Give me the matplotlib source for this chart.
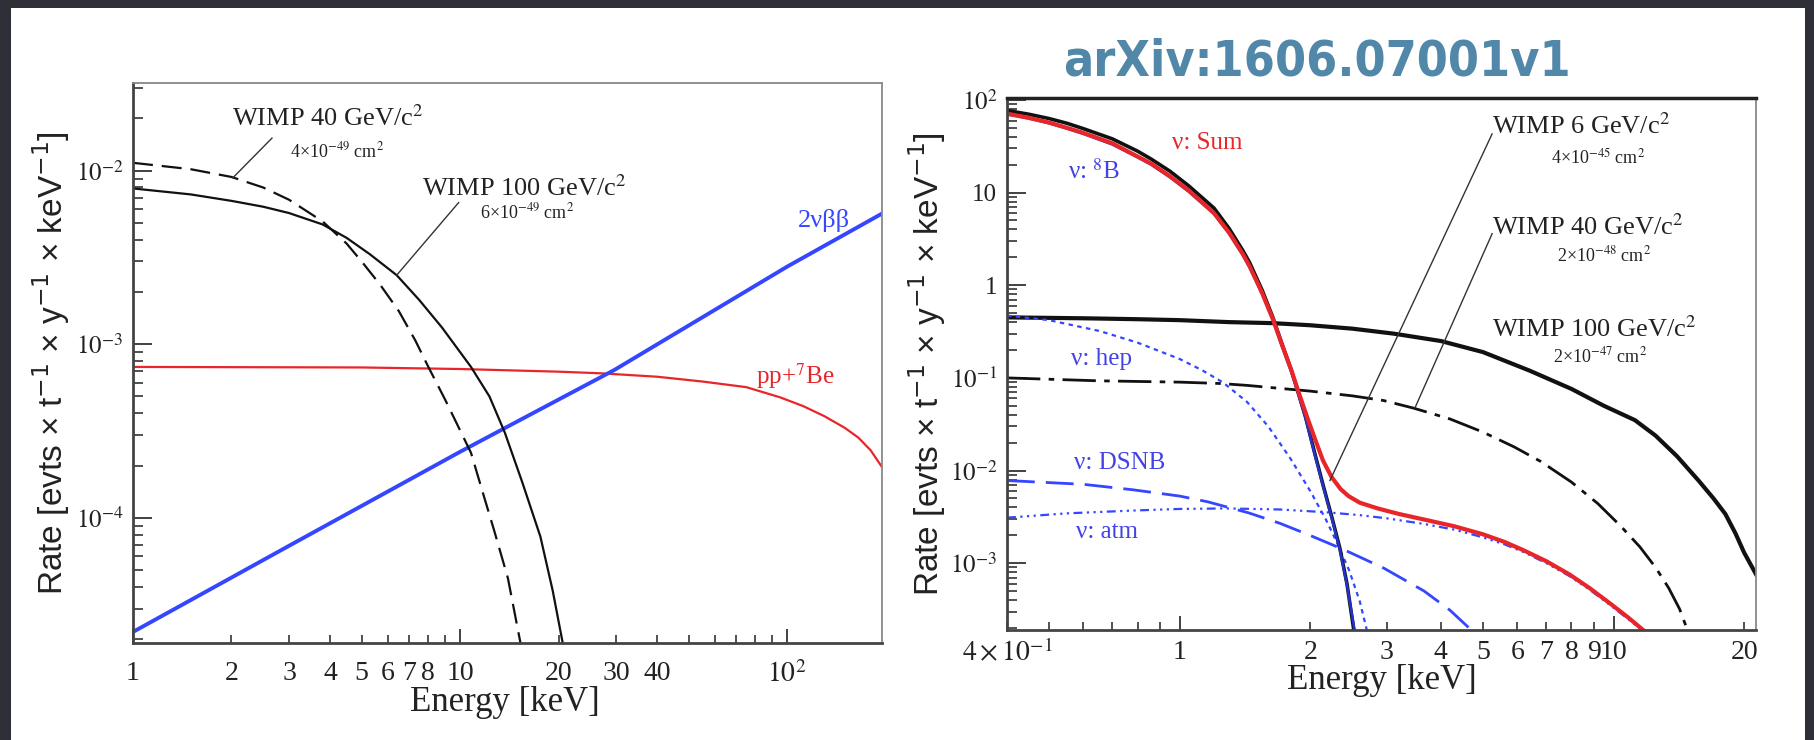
import numpy as np
import matplotlib
matplotlib.use("Agg")
import matplotlib.pyplot as plt
from matplotlib import ticker, font_manager as fm
from matplotlib.patches import Rectangle

# ---- left panel (keV, evts/t/y/keV) ----
w40L_e = [1.0, 1.5, 2.0, 2.5, 3.0, 3.8, 4.5, 5.0, 5.7, 6.5, 7.3, 8.0, 9.0, 10.8, 11.8, 12.7, 14.0, 15.3]
w40L_r = [1.11e-2, 1.02e-2, 9.2e-3, 8.0e-3, 6.8e-3, 5.1e-3, 3.8e-3, 3.0e-3, 2.2e-3, 1.55e-3,
          1.05e-3, 7.4e-4, 4.8e-4, 2.37e-4, 1.35e-4, 8.5e-5, 4.5e-5, 1.9e-5]
w100L_e = [1.0, 1.5, 2.0, 2.5, 3.0, 3.8, 4.5, 5.3, 6.4, 7.5, 8.8, 10.8, 12.3, 13.7, 15.5, 17.6, 19.2, 20.6]
w100L_r = [7.9e-3, 7.3e-3, 6.7e-3, 6.2e-3, 5.7e-3, 4.9e-3, 4.1e-3, 3.3e-3, 2.5e-3, 1.8e-3,
           1.25e-3, 7.4e-4, 5.0e-4, 3.1e-4, 1.6e-4, 7.8e-5, 3.8e-5, 1.9e-5]
bb_e = [1.0, 3.0, 10.0, 29.6, 100.0, 195.0]
bb_r = [2.2e-5, 6.9e-5, 2.4e-4, 7.1e-4, 2.8e-3, 5.66e-3]
pp_e = [1.0, 5.0, 10.0, 20.0, 27.0, 40.0, 55.0, 75.0, 95.0, 112.0, 130.0, 150.0, 165.0, 180.0, 195.0]
pp_r = [7.4e-4, 7.35e-4, 7.2e-4, 6.95e-4, 6.8e-4, 6.5e-4, 6.1e-4, 5.66e-4, 4.95e-4, 4.4e-4,
        3.85e-4, 3.3e-4, 2.9e-4, 2.45e-4, 1.96e-4]

# leader lines left panel
lead40L_e, lead40L_r = [2.66, 2.02], [1.54e-2, 9.1e-3]
lead100L_e, lead100L_r = [9.9, 6.4], [6.55e-3, 2.5e-3]

# ---- right panel ----
sum_e = [0.4, 0.45, 0.5, 0.55, 0.6, 0.7, 0.8, 0.86, 0.95, 1.05, 1.2, 1.3, 1.4, 1.45, 1.55, 1.64,
         1.72, 1.81, 1.89, 1.97, 2.05, 2.14, 2.24, 2.35, 2.45, 2.6, 2.86, 3.2, 3.67, 4.3, 5.0,
         5.6, 6.2, 7.0, 7.9, 8.8, 9.8, 10.8, 11.7]
sum_r = [71, 64, 57, 50, 44, 34, 24.5, 20.5, 15, 10.5, 6.0, 3.7, 2.15, 1.6, 0.82, 0.43,
         0.23, 0.12, 0.065, 0.037, 0.022, 0.0128, 8.5e-3, 6.3e-3, 5.3e-3, 4.5e-3, 3.9e-3, 3.4e-3,
         2.95e-3, 2.5e-3, 2.05e-3, 1.7e-3, 1.38e-3, 1.05e-3, 7.6e-4, 5.4e-4, 3.7e-4, 2.6e-4, 1.9e-4]
w6_e = [0.4, 0.45, 0.5, 0.55, 0.6, 0.7, 0.8, 0.86, 0.95, 1.05, 1.2, 1.3, 1.4, 1.45, 1.55, 1.64,
        1.72, 1.81, 1.87, 1.95, 2.04, 2.14, 2.24, 2.34, 2.43, 2.52]
w6_r = [77, 70, 63, 56, 49, 38, 28, 23, 17, 11.8, 6.8, 4.1, 2.35, 1.75, 0.88, 0.45,
        0.235, 0.12, 0.073, 0.038, 0.0165, 7.0e-3, 3.2e-3, 1.45e-3, 6.0e-4, 1.9e-4]
b8_e = [0.4, 0.45, 0.5, 0.55, 0.6, 0.7, 0.8, 0.86, 0.95, 1.05, 1.2, 1.3, 1.4, 1.45, 1.55, 1.64,
        1.72, 1.81, 1.87, 1.95, 2.04, 2.14, 2.24, 2.34, 2.43, 2.53]
b8_r = [70, 63, 56, 49, 43, 33, 24, 20, 14.6, 10.2, 5.9, 3.6, 2.1, 1.55, 0.8, 0.42,
        0.22, 0.115, 0.07, 0.037, 0.016, 6.8e-3, 3.1e-3, 1.4e-3, 5.8e-4, 1.9e-4]
w100R_e = [0.4, 0.6, 0.8, 1.0, 1.3, 1.64, 2.0, 2.5, 3.12, 4.0, 5.0, 6.4, 8.0, 9.5, 11.2, 12.5,
           14.0, 15.7, 17.0, 18.1, 19.1, 20.0, 21.3]
w100R_r = [0.45, 0.44, 0.43, 0.42, 0.40, 0.39, 0.37, 0.34, 0.30, 0.25, 0.19, 0.12, 0.076, 0.05,
           0.035, 0.0238, 0.0143, 7.8e-3, 5.0e-3, 3.4e-3, 2.1e-3, 1.3e-3, 7.6e-4]
w40R_e = [0.4, 0.65, 1.0, 1.24, 1.43, 2.0, 2.5, 2.95, 3.47, 4.2, 5.0, 5.9, 6.8, 8.0, 9.2, 10.4,
          11.5, 12.5, 13.4, 14.2, 14.8]
w40R_r = [0.1, 0.093, 0.09, 0.087, 0.083, 0.072, 0.064, 0.057, 0.047, 0.036, 0.026, 0.018, 0.0125,
          7.5e-3, 4.4e-3, 2.5e-3, 1.5e-3, 9.0e-4, 5.4e-4, 3.2e-4, 1.9e-4]
hep_e = [0.4, 0.5, 0.655, 0.8, 1.0, 1.13, 1.26, 1.43, 1.6, 1.8, 2.0, 2.17, 2.3, 2.46, 2.6, 2.70]
hep_r = [0.47, 0.42, 0.32, 0.24, 0.16, 0.12, 0.089, 0.055, 0.03, 0.0135, 6.0e-3, 3.0e-3, 1.7e-3,
         8.3e-4, 3.9e-4, 1.9e-4]
dsnb_e = [0.4, 0.6, 0.78, 1.0, 1.16, 1.44, 1.7, 1.97, 2.39, 2.96, 3.66, 4.2, 4.7]
dsnb_r = [7.8e-3, 7.1e-3, 6.2e-3, 5.3e-3, 4.6e-3, 3.5e-3, 2.7e-3, 2.05e-3, 1.4e-3, 8.8e-4,
          5.0e-4, 3.1e-4, 1.9e-4]
atm_e = [0.4, 0.55, 0.78, 1.0, 1.28, 1.7, 2.17, 2.6, 3.0, 3.66, 4.3, 5.0, 5.6, 6.2, 7.0, 7.9,
         8.8, 9.8, 10.8, 11.7]
atm_r = [3.1e-3, 3.45e-3, 3.7e-3, 3.85e-3, 3.9e-3, 3.8e-3, 3.55e-3, 3.3e-3, 3.05e-3, 2.65e-3,
         2.3e-3, 1.9e-3, 1.6e-3, 1.32e-3, 1.0e-3, 7.3e-4, 5.2e-4, 3.55e-4, 2.5e-4, 1.85e-4]

lead6R_e, lead6R_r = [5.25, 2.22], [43, 7.8e-3]
lead40R_e, lead40R_r = [5.25, 3.49], [3.6, 0.048]

xlabL = {2: "2", 3: "3", 4: "4", 5: "5", 6: "6", 7: "7", 8: "8", 20: "20", 30: "30", 40: "40",
         1: "1", 10: "10", 100: "$10^2$"}
ylabL = {1e-2: "$10^{-2}$", 1e-3: "$10^{-3}$", 1e-4: "$10^{-4}$"}
xlabR = {0.4: r"$4\times10^{-1}$", 1: "1", 2: "2", 3: "3", 4: "4", 5: "5", 6: "6", 7: "7", 8: "8",
         9: "9", 10: "10", 20: "20"}
ylabR = {100: "$10^2$", 10: "10", 1: "1", 0.1: "$10^{-1}$", 0.01: "$10^{-2}$", 1e-3: "$10^{-3}$"}

plt.rcParams["font.family"] = ["Liberation Serif", "DejaVu Serif"]
plt.rcParams["mathtext.fontset"] = "stix"

W, H = 1815, 740
fig = plt.figure(figsize=(W / 100, H / 100), dpi=100, facecolor="#2f2f38")
fig.add_artist(Rectangle((11 / W, 0), 1794 / W, 732 / H, transform=fig.transFigure,
                         facecolor="white", edgecolor="none", zorder=-10))

axL = fig.add_axes([133 / W, 97 / H, 749 / W, 560 / H])
axR = fig.add_axes([1007 / W, 110 / H, 749 / W, 532 / H])


def lab(d):
    def f(v, pos):
        for k, s in d.items():
            if np.isclose(v, k, rtol=1e-6):
                return s
        return ""
    return ticker.FuncFormatter(f)


def style(ax, xl, yl, xpad):
    ax.set_xscale("log")
    ax.set_yscale("log")
    for a in (ax.xaxis, ax.yaxis):
        a.set_major_locator(ticker.LogLocator(base=10, numticks=30))
        a.set_minor_locator(ticker.LogLocator(base=10, subs=np.arange(2, 10), numticks=60))
    ax.xaxis.set_major_formatter(lab(xl))
    ax.xaxis.set_minor_formatter(lab(xl))
    ax.yaxis.set_major_formatter(lab(yl))
    ax.yaxis.set_minor_formatter(ticker.NullFormatter())
    ax.tick_params(which="both", direction="in", top=False, right=False, colors="#333",
                   labelcolor="#222")
    ax.tick_params(axis="x", which="major", length=10, width=1.3, labelsize=20, pad=xpad)
    ax.tick_params(axis="x", which="minor", length=6, width=1.2, labelsize=20, pad=xpad)
    ax.tick_params(axis="y", which="major", length=14, width=1.3, labelsize=18, pad=7)
    ax.tick_params(axis="y", which="minor", length=7, width=1.2)
    for s in ("left", "bottom"):
        ax.spines[s].set_color("#444")
        ax.spines[s].set_linewidth(2)
    for s in ("top", "right"):
        ax.spines[s].set_color("#888")
        ax.spines[s].set_linewidth(1.3)
    ax.set_xlabel("Energy [keV]", fontsize=25, color="#222")
    ax.set_ylabel("Rate [evts × t$^{-1}$ × y$^{-1}$ × keV$^{-1}$]", fontsize=24, color="#222",
                  family=["Liberation Sans", "DejaVu Sans"], math_fontfamily="dejavusans")


style(axL, xlabL, ylabL, 13)
style(axR, xlabR, ylabR, 7)
axR.spines["top"].set_color("#222")
axR.spines["top"].set_linewidth(2.5)

axL.set_xlim(1, 195)
axL.set_ylim(1.9e-5, 3.2e-2)
axR.set_xlim(0.4, 21.3)
axR.set_ylim(1.9e-4, 105)

axL.xaxis.set_label_coords(0.497, -0.077)
axL.yaxis.set_label_coords(-0.0814, 0.5)
axR.xaxis.set_label_coords(0.5, -0.064)
axR.yaxis.set_label_coords(-0.0788, 0.5)

blue = "#3446ff"
red = "#e8262a"

# left panel curves
axL.plot(pp_e, pp_r, color=red, lw=1.6)
axL.plot(bb_e, bb_r, color=blue, lw=2.8)
axL.plot(w40L_e, w40L_r, color="#111", lw=1.6, ls=(0, (9, 4)))
axL.plot(w100L_e, w100L_r, color="#111", lw=1.6)
axL.plot(lead40L_e, lead40L_r, color="#333", lw=1.0)
axL.plot(lead100L_e, lead100L_r, color="#333", lw=1.0)

axL.text(2.01, 0.0202, "WIMP 40 GeV/c$^2$", fontsize=19, ha="left", va="center", color="#222")
axL.text(4.21, 0.0130, "4×10$^{-49}$ cm$^2$", fontsize=13, ha="center", va="center", color="#222")
axL.text(7.65, 7.98e-3, "WIMP 100 GeV/c$^2$", fontsize=19, ha="left", va="center", color="#222")
axL.text(16.0, 5.74e-3, "6×10$^{-49}$ cm$^2$", fontsize=13, ha="center", va="center", color="#222")
axL.text(156, 5.16e-3, "2νββ", fontsize=19, ha="right", va="center", color=blue)
axL.text(105.6, 6.55e-4, "pp+$^7$Be", fontsize=18, ha="center", va="center", color=red)

# right panel curves
axR.plot(w100R_e, w100R_r, color="#111", lw=3.0)
axR.plot(w40R_e, w40R_r, color="#111", lw=2.0, ls=(0, (12, 3, 2, 3)))
axR.plot(hep_e, hep_r, color=blue, lw=1.6, ls=(0, (2, 2)))
axR.plot(dsnb_e, dsnb_r, color=blue, lw=2.0, ls=(0, (10, 4)))
axR.plot(atm_e, atm_r, color=blue, lw=1.6, ls=(0, (4, 2, 1, 2, 1, 2, 1, 2)))
axR.plot(w6_e, w6_r, color="#111", lw=2.6)
axR.plot(b8_e, b8_r, color="#2233cc", lw=1.8)
axR.plot(sum_e, sum_r, color=red, lw=3.0)
axR.plot(lead6R_e, lead6R_r, color="#333", lw=1.0)
axR.plot(lead40R_e, lead40R_r, color="#333", lw=1.0)

tb = "#4242e6"
axR.text(1.155, 34.4, "ν: Sum", fontsize=18, ha="center", va="center", color=red)
axR.text(0.634, 16.8, "ν: $^8$B", fontsize=18, ha="center", va="center", color=tb)
axR.text(0.662, 0.161, "ν: hep", fontsize=18, ha="center", va="center", color=tb)
axR.text(0.726, 0.0122, "ν: DSNB", fontsize=18, ha="center", va="center", color=tb)
axR.text(0.679, 2.19e-3, "ν: atm", fontsize=18, ha="center", va="center", color=tb)
axR.text(5.25, 52.6, "WIMP 6 GeV/c$^2$", fontsize=19, ha="left", va="center", color="#222")
axR.text(9.22, 23.7, "4×10$^{-45}$ cm$^2$", fontsize=13, ha="center", va="center", color="#222")
axR.text(5.25, 4.28, "WIMP 40 GeV/c$^2$", fontsize=19, ha="left", va="center", color="#222")
axR.text(9.5, 2.08, "2×10$^{-48}$ cm$^2$", fontsize=13, ha="center", va="center", color="#222")
axR.text(5.25, 0.34, "WIMP 100 GeV/c$^2$", fontsize=19, ha="left", va="center", color="#222")
axR.text(9.3, 0.169, "2×10$^{-47}$ cm$^2$", fontsize=13, ha="center", va="center", color="#222")


# title: narrowest bold sans that is installed
def title_font():
    for f in fm.fontManager.ttflist:
        nm = f.name.lower()
        w = f.weight if isinstance(f.weight, int) else {"bold": 700, "heavy": 800}.get(str(f.weight), 400)
        if ("narrow" in nm or "condensed" in nm or "condensed" in str(f.stretch).lower()) and w >= 600:
            return fm.FontProperties(fname=f.fname)
    for fam in ("Roboto", "Liberation Sans", "Lato"):
        try:
            fm.findfont(fm.FontProperties(family=fam, weight="bold"), fallback_to_default=False)
            return fm.FontProperties(family=fam, weight="bold")
        except Exception:
            pass
    return fm.FontProperties(family="DejaVu Sans", weight="bold")


fp = title_font()
fp.set_size(48)
title = fig.text(1317 / W, 1 - 75 / H, "arXiv:1606.07001v1", ha="center", va="baseline",
                 color="#5187a8", fontproperties=fp)
fig.canvas.draw()
bw = title.get_window_extent().width
if bw > 0:
    title.set_fontsize(48 * 508 / bw)

fig.savefig("out.png", dpi=100, facecolor=fig.get_facecolor())
